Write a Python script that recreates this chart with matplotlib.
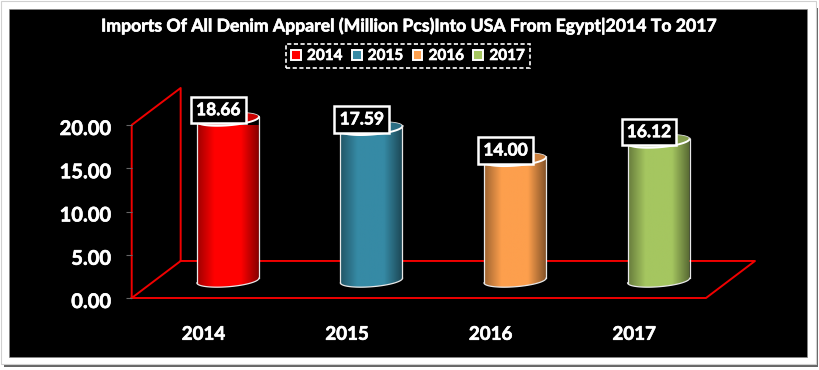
import numpy as np
import matplotlib

matplotlib.use('Agg')
import matplotlib.pyplot as plt
import matplotlib.patheffects as pe
from matplotlib.patches import Rectangle, Polygon, Patch
from matplotlib.transforms import ScaledTranslation

plt.rcParams['font.family'] = ['Lato', 'DejaVu Sans']
plt.rcParams['font.weight'] = 'bold'

years = ['2014', '2015', '2016', '2017']
values = [18.66, 17.59, 14.00, 16.12]
colors = ['#ff0000', '#368aa5', '#fd9f4d', '#a5c660']
yticks = [0, 5, 10, 15, 20]
title = 'Imports Of All Denim Apparel (Million Pcs)Into USA From Egypt|2014 To 2017'

W, H = 820, 370
fig = plt.figure(figsize=(W / 100, H / 100), dpi=100, facecolor='white')
# Lato bold is lighter than the original font, thicken it a bit
heavy = [pe.withStroke(linewidth=0.45, foreground='white')]


def px_rect(x0, y0, x1, y1, **kw):
    # rectangle given in picture pixels, y counted from the top
    fig.add_artist(Rectangle((x0 / W, 1 - y1 / H), (x1 - x0) / W, (y1 - y0) / H,
                             transform=fig.transFigure, zorder=-1, **kw))


# Shadow and black panel
px_rect(4, 8, 818, 367, facecolor='#666666', edgecolor='none')
px_rect(1, 1, 816, 364, facecolor='white', edgecolor='#d0d0d0', linewidth=0.8)
px_rect(9, 9, 807, 357, facecolor='black', edgecolor='#888888', linewidth=0.5)

# The axes is the front plane of the 3D box
ax = fig.add_axes([131.7 / W, 1 - 298 / H, (706 - 131.7) / W, (298 - 125) / H])
ax.patch.set_alpha(0)

depth_x = 0.341
depth_y = 4.28
floor_color = '#f00000'
lw = 1.4

# Walls and floor
ax.plot([-0.5, -0.5 + depth_x, -0.5 + depth_x, -0.5, -0.5], [0, depth_y, 20 + depth_y, 20, 0],
        color=floor_color, lw=lw, clip_on=False, zorder=1)
ax.plot([-0.5, 3.5, 3.5 + depth_x, -0.5 + depth_x], [0, 0, depth_y, depth_y],
        color=floor_color, lw=lw, clip_on=False, zorder=1)

bar_shift = 0.17
half_w = 0.216
base_y = 2.02
minor = 0.72
tilt = 0.27


def ellipse_arc(cx, cy, t0, t1):
    t = np.linspace(t0, t1, 60)
    return np.column_stack([cx + half_w * np.cos(t), cy + minor * np.sin(t) + tilt * np.cos(t)])


def shade(color, n=120):
    rgb = np.array(matplotlib.colors.to_rgb(color))
    u = np.linspace(-1, 1, n)
    light = np.where(u < 0, 0.62 + 0.38 * np.clip((u + 1) / 0.55, 0, 1),
                     0.5 + 0.5 * np.clip((1 - u) / 0.6, 0, 1))
    return (light[None, :, None] * rgb[None, None, :]).clip(0, 1)


for i, (value, color) in enumerate(zip(values, colors)):
    cx = i + bar_shift
    top = base_y + value
    body = np.vstack([ellipse_arc(cx, base_y, np.pi, 2 * np.pi), ellipse_arc(cx, top, 0, -np.pi)])
    im = ax.imshow(shade(color), extent=[cx - half_w, cx + half_w, 0, top + 2], aspect='auto',
                   zorder=3)
    im.set_clip_path(Polygon(body, closed=True, transform=ax.transData))
    # inside of the open top, darker than the body
    back = ellipse_arc(cx, top, 0, 2 * np.pi)
    ax.add_patch(Polygon(back, closed=True, facecolor=tuple(0.8 * c for c in matplotlib.colors.to_rgb(color)),
                         edgecolor='none', zorder=3, clip_on=False))
    # white rim
    ax.plot(*ellipse_arc(cx, top, np.pi, 2 * np.pi).T, color='white', lw=1.4, zorder=4, clip_on=False)
    ax.plot(*ellipse_arc(cx, top, 0, np.pi).T, color='#dddddd', lw=0.6, zorder=4, clip_on=False)
    ax.plot(*body[:60].T, color='#e8e8e8', lw=0.9, zorder=4, clip_on=False)
    ax.plot([cx - half_w, cx - half_w], [base_y - tilt, top - tilt], color='#e8e8e8', lw=0.9, zorder=4, clip_on=False)
    ax.plot([cx + half_w, cx + half_w], [base_y + tilt, top + tilt], color='#e8e8e8', lw=0.9, zorder=4, clip_on=False)
    ax.annotate(f'{value:.2f}', (cx, top), xytext=(-6.9, 6.4), textcoords='offset points',
                ha='center', va='center', color='white', fontsize=12.5, zorder=6, annotation_clip=False,
                path_effects=heavy,
                bbox=dict(boxstyle='square,pad=0.3', facecolor='black', edgecolor='white', linewidth=1.8))

ax.set_xlim(-0.5, 3.5)
ax.set_ylim(0, 20)
ax.set_xticks(range(len(years)))
ax.set_xticklabels(years)
ax.set_yticks(yticks)
ax.set_yticklabels([f'{y:.2f}' for y in yticks])
ax.tick_params(axis='x', length=0, pad=20, labelsize=13.5, labelcolor='white')
ax.tick_params(axis='y', length=4.5, width=0.8, color='#666666', pad=10.5, labelsize=14.5, labelcolor='white')
down = ScaledTranslation(0, -2 / 100, fig.dpi_scale_trans)
for t in ax.get_yticklabels():
    t.set_transform(t.get_transform() + down)
for t in ax.get_xticklabels() + ax.get_yticklabels():
    t.set_path_effects(heavy)
for s in ax.spines.values():
    s.set_visible(False)

fig.text(409.5 / W, 1 - 25.5 / H, title, ha='center', va='center', color='white', fontsize=12.7, path_effects=heavy)

handles = [Patch(facecolor=c, edgecolor='white', linewidth=1.4, label=y) for c, y in zip(colors, years)]
leg = fig.legend(handles=handles, ncol=4, loc='center', bbox_to_anchor=(408 / W, 1 - 56 / H), frameon=True,
                 fancybox=False, facecolor='black', edgecolor='white', fontsize=11, labelcolor='white',
                 handlelength=0.65, handleheight=0.65, handletextpad=0.4, columnspacing=0.6, borderpad=0.35,
                 framealpha=1)
leg.get_frame().set_linestyle((0, (2.5, 1.5)))
leg.get_frame().set_linewidth(1.2)
for t in leg.get_texts():
    t.set_path_effects(heavy)

fig.savefig('out.png', dpi=100, facecolor=fig.get_facecolor())
